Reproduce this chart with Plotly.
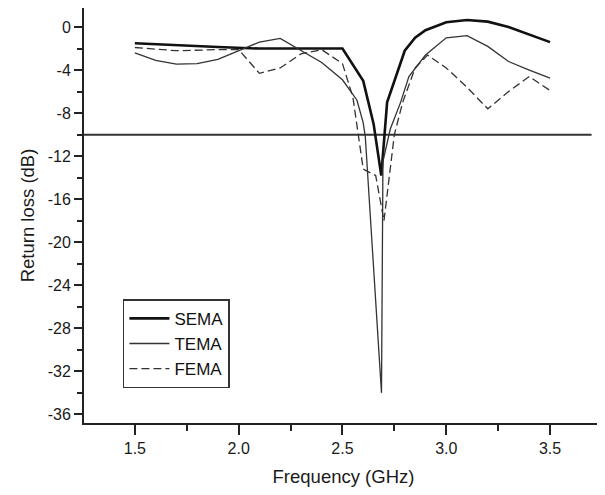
import plotly.graph_objects as go

# SEMA (thick solid)
freq_sema = [1.5, 1.7, 1.9, 2.1, 2.3, 2.5, 2.6, 2.65, 2.687, 2.715, 2.8, 2.85, 2.9, 3.0, 3.1, 3.2, 3.3, 3.4, 3.5]
rl_sema = [-1.5, -1.7, -1.85, -2.0, -2.0, -2.0, -5.0, -9.0, -13.8, -7.0, -2.2, -1.0, -0.3, 0.45, 0.65, 0.5, 0.0, -0.7, -1.4]

# TEMA (thin solid)
freq_tema = [1.5, 1.6, 1.7, 1.8, 1.9, 2.0, 2.1, 2.2, 2.3, 2.4, 2.5, 2.57, 2.6, 2.61, 2.688, 2.695, 2.73, 2.78, 2.82, 2.9, 3.0, 3.1, 3.2, 3.3, 3.4, 3.5]
rl_tema = [-2.4, -3.1, -3.45, -3.4, -3.0, -2.2, -1.4, -1.05, -2.2, -3.3, -4.9, -6.8, -8.9, -10.2, -34.0, -12.5, -9.5, -7.0, -4.6, -2.6, -1.0, -0.8, -1.8, -3.2, -4.0, -4.75]

# FEMA (dashed)
freq_fema = [1.5, 1.7, 1.9, 2.0, 2.1, 2.2, 2.3, 2.4, 2.5, 2.55, 2.6, 2.66, 2.70, 2.75, 2.79, 2.85, 2.91, 3.0, 3.1, 3.2, 3.3, 3.4, 3.5]
rl_fema = [-1.9, -2.2, -2.1, -2.1, -4.3, -3.8, -2.5, -2.1, -3.4, -6.5, -13.2, -13.8, -18.0, -10.0, -7.0, -3.8, -2.6, -3.8, -5.6, -7.6, -6.0, -4.6, -5.9]

# -10 dB reference line
ref_freq = [1.255, 3.7]
ref_level = [-10, -10]

y_ticks = [0, -4, -8, -12, -16, -20, -24, -28, -32, -36]
y_minor = [-2, -6, -10, -14, -18, -22, -26, -30, -34]
x_ticks = [1.5, 2.0, 2.5, 3.0, 3.5]
x_minor = [1.25, 1.75, 2.25, 2.75, 3.25, 3.75]

font = "Liberation Sans, Arial, sans-serif"

fig = go.Figure()
fig.add_trace(go.Scatter(x=ref_freq, y=ref_level, mode="lines", showlegend=False,
                         line=dict(color="#333333", width=2)))
fig.add_trace(go.Scatter(x=freq_sema, y=rl_sema, mode="lines", name="SEMA",
                         line=dict(color="#111111", width=2.6)))
fig.add_trace(go.Scatter(x=freq_tema, y=rl_tema, mode="lines", name="TEMA",
                         line=dict(color="#333333", width=1.3)))
fig.add_trace(go.Scatter(x=freq_fema, y=rl_fema, mode="lines", name="FEMA",
                         line=dict(color="#333333", width=1.3, dash="8px,4px")))

# the page body has an 8px margin, so the figure is a little smaller than the window
fig.update_layout(
    width=597,
    height=487,
    margin=dict(l=76, r=2, t=0, b=72),
    paper_bgcolor="white",
    plot_bgcolor="white",
    font=dict(family=font, size=16, color="#1a1a1a"),
    showlegend=True,
    legend=dict(
        x=0.075, y=0.298, xanchor="left", yanchor="top",
        bordercolor="#333333", borderwidth=1.5, bgcolor="white",
        font=dict(size=17, color="#111111"),
        tracegroupgap=0, itemwidth=40,
    ),
    xaxis=dict(
        range=[1.255, 3.755], automargin=False,
        showline=True, linecolor="#222222", linewidth=2,
        showgrid=False, zeroline=False,
        tickmode="array", tickvals=x_ticks, ticktext=["1.5", "2.0", "2.5", "3.0", "3.5"],
        ticks="outside", ticklen=10, tickwidth=1.5, tickcolor="#222222",
        minor=dict(tickmode="array", tickvals=x_minor, ticks="outside", ticklen=6,
                   tickwidth=1.5, tickcolor="#222222"),
        title=dict(text="Frequency (GHz)", font=dict(size=18.5), standoff=14),
    ),
    yaxis=dict(
        range=[-36.8, 1.77], automargin=False,
        showline=True, linecolor="#222222", linewidth=2,
        showgrid=False, zeroline=False,
        tickmode="array", tickvals=y_ticks, ticktext=[str(v) for v in y_ticks],
        ticks="outside", ticklen=8, tickwidth=1.5, tickcolor="#222222",
        minor=dict(tickmode="array", tickvals=y_minor, ticks="outside", ticklen=5,
                   tickwidth=1.5, tickcolor="#222222"),
        title=dict(text="Return loss (dB)", font=dict(size=18.5), standoff=8),
    ),
)

fig.write_html("out.html")
